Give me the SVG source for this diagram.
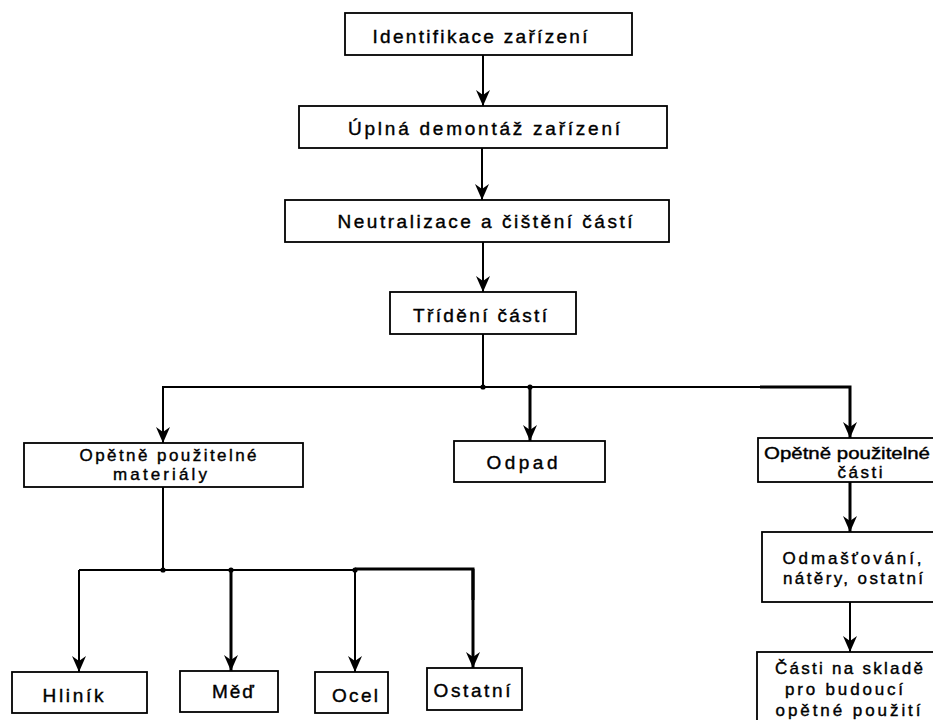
<svg xmlns="http://www.w3.org/2000/svg" width="933" height="720" viewBox="0 0 933 720">
<style>
.box rect{fill:#fff;stroke:#000;stroke-width:1.8}
.box text{font-family:"Liberation Sans",Arial,sans-serif;font-size:19px;fill:#000;text-anchor:middle;stroke:#000;stroke-width:0.4}
.s text{font-size:17px}
.c{stroke:#000;stroke-width:2;fill:none}
.t{stroke-width:3}
.a{marker-end:url(#ah)}
</style>
<defs>
<marker id="ah" markerUnits="userSpaceOnUse" viewBox="0 0 16 14" refX="16" refY="7" markerWidth="16" markerHeight="14" orient="auto">
<path d="M0,0 L16,7 L0,14 L5,7 Z" fill="#000"/>
</marker>
</defs>
<rect width="933" height="720" fill="#fff"/>
<g id="connectors">
<line class="c a" x1="483" y1="55" x2="483" y2="106"/>
<line class="c a" x1="482" y1="148" x2="482" y2="200"/>
<line class="c a" x1="483" y1="242" x2="483" y2="292"/>
<line class="c" x1="483" y1="334" x2="483" y2="387"/>
<polyline class="c" points="163,443 163,387 850,387"/>
<line class="c a" x1="163" y1="387" x2="163" y2="443"/>
<line class="c t a" x1="530" y1="387" x2="530" y2="441"/>
<polyline class="c t a" points="760,387 850,387 850,438"/>
<line class="c t a" x1="850" y1="482" x2="850" y2="532"/>
<line class="c a" x1="850" y1="602" x2="850" y2="652"/>
<line class="c" x1="163" y1="487" x2="163" y2="570"/>
<line class="c" x1="79" y1="570" x2="355" y2="570"/>
<polyline class="c t" points="355,569 473,569 473,600"/>
<line class="c a" x1="79" y1="570" x2="79" y2="672"/>
<line class="c t a" x1="231" y1="570" x2="231" y2="671"/>
<line class="c a" x1="355" y1="570" x2="355" y2="672"/>
<line class="c t a" x1="473" y1="569" x2="473" y2="668"/>
<circle cx="483" cy="387" r="2.6"/>
<circle cx="530" cy="387" r="2.6"/>
<circle cx="163" cy="570" r="2.6"/>
<circle cx="231" cy="570" r="2.6"/>
<circle cx="355" cy="570" r="2.6"/>
</g>
<g id="n1" class="box"><rect x="345" y="13" width="287" height="42"/><text x="480" y="43" textLength="215" lengthAdjust="spacing">Identifikace zařízení</text></g>
<g id="n2" class="box"><rect x="299" y="106" width="368" height="42"/><text x="484" y="135" textLength="272" lengthAdjust="spacing">Úplná demontáž zařízení</text></g>
<g id="n3" class="box"><rect x="285" y="200" width="384" height="42"/><text x="485" y="228" textLength="295" lengthAdjust="spacing">Neutralizace a čištění částí</text></g>
<g id="n4" class="box"><rect x="390" y="292" width="186" height="42"/><text x="480" y="322" textLength="134" lengthAdjust="spacing">Třídění částí</text></g>
<g id="n5" class="box s"><rect x="24" y="443" width="279" height="44"/><text x="168" y="461" textLength="177" lengthAdjust="spacing">Opětně použitelné</text><text x="160" y="480" textLength="94" lengthAdjust="spacing">materiály</text></g>
<g id="n6" class="box"><rect x="454" y="441" width="151" height="41"/><text x="522" y="469" textLength="71" lengthAdjust="spacing">Odpad</text></g>
<g id="n7" class="box s"><rect x="758" y="438" width="185" height="44"/><text x="847" y="459" textLength="166" lengthAdjust="spacingAndGlyphs">Opětně použitelné</text><text x="860" y="478" textLength="45" lengthAdjust="spacing">části</text></g>
<g id="n8" class="box s"><rect x="762" y="532" width="180" height="70"/><text x="852" y="564" textLength="139" lengthAdjust="spacing">Odmašťování,</text><text x="853" y="584" textLength="140" lengthAdjust="spacing">nátěry, ostatní</text></g>
<g id="n9" class="box s"><rect x="757" y="652" width="185" height="80"/><text x="849" y="674" textLength="148" lengthAdjust="spacing">Části na skladě</text><text x="844" y="695" textLength="118" lengthAdjust="spacing">pro budoucí</text><text x="848" y="716" textLength="145" lengthAdjust="spacing">opětné použití</text></g>
<g id="n10" class="box"><rect x="12" y="672" width="135" height="41"/><text x="73" y="702" textLength="61" lengthAdjust="spacing">Hliník</text></g>
<g id="n11" class="box"><rect x="180" y="671" width="98" height="41"/><text x="233" y="698" textLength="42" lengthAdjust="spacing">Měď</text></g>
<g id="n12" class="box"><rect x="315" y="672" width="73" height="41"/><text x="355" y="702" textLength="46" lengthAdjust="spacing">Ocel</text></g>
<g id="n13" class="box"><rect x="427" y="668" width="95" height="42"/><text x="472" y="697" textLength="77" lengthAdjust="spacing">Ostatní</text></g>
</svg>
